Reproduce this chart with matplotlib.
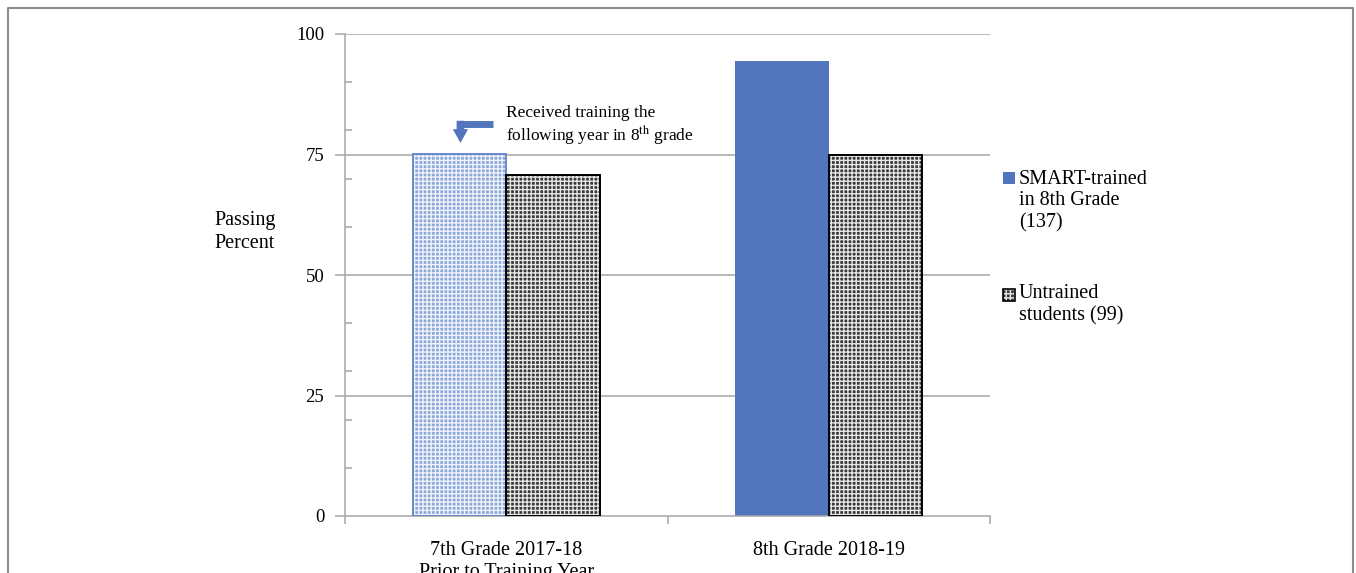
import matplotlib
matplotlib.use('Agg')
import matplotlib.pyplot as plt
from matplotlib.patches import Rectangle
from matplotlib.lines import Line2D
import numpy as np

plt.rcParams['font.family'] = ['Liberation Serif', 'DejaVu Serif']
plt.rcParams['mathtext.fontset'] = 'stix'
plt.rcParams['hatch.linewidth'] = 1.0

# данные
groups = ['7th Grade 2017-18\nPrior to Training Year', '8th Grade 2018-19']
trained = [75.2, 94.4]      # SMART-trained in 8th Grade (137)
untrained = [70.7, 75.0]    # Untrained students (99)
legend_labels = ['SMART-trained\nin 8th Grade\n(137)', 'Untrained\nstudents (99)']
yticks = [0, 25, 50, 75, 100]
note = 'Received training the\nfollowing year in 8$^{\\mathrm{th}}$ grade'

W, H = 1356, 573
fig = plt.figure(figsize=(W / 100, H / 100), dpi=100)
ax = fig.add_axes([345 / W, 1 - 516 / H, 645 / W, 482 / H])

grey = '#a6a6a6'
blue = '#5275be'
light_face = '#8ea8da'
dark_face = '#3a3a3a'
bw = 0.29
x = np.arange(len(groups))

# сетка
for v in yticks[1:]:
    ax.axhline(v, color=grey, lw=1.1, zorder=0)

# первый ряд: до обучения светлый, потом сплошной синий
ax.bar(x[0] - bw / 2, trained[0], bw, color=light_face, edgecolor='#eef2fa', hatch='++++', lw=0, zorder=2)
ax.bar(x[0] - bw / 2, trained[0], bw, fill=False, edgecolor='#5f82c8', lw=1.3, zorder=3)
ax.bar(x[1] - bw / 2, trained[1], bw, color=blue, lw=0, zorder=2)

# второй ряд
ax.bar(x + bw / 2, untrained, bw, color=dark_face, edgecolor='#e6e6e6', hatch='++++', lw=0, zorder=2)
ax.bar(x + bw / 2, untrained, bw, fill=False, edgecolor='black', lw=1.4, zorder=3)

ax.set_xlim(-0.5, 1.5)
ax.set_ylim(0, 100)

for s in ['top', 'right']:
    ax.spines[s].set_visible(False)
for s in ['left', 'bottom']:
    ax.spines[s].set_color(grey)
    ax.spines[s].set_linewidth(1.1)

ax.set_yticks(yticks)
ax.set_yticks([10, 20, 30, 40, 60, 70, 80, 90], minor=True)
ax.tick_params(axis='y', which='major', direction='out', length=7, color=grey, width=1.1,
               labelsize=13.5, pad=8)
ax.tick_params(axis='y', which='minor', direction='in', length=5, color=grey, width=1.1)

ax.set_xticks([-0.5, 0.5, 1.5])
ax.set_xticklabels([])
ax.set_xticks(x, minor=True)
ax.set_xticklabels(groups, minor=True)
ax.tick_params(axis='x', which='major', direction='out', length=6, color=grey, width=1.1)
ax.tick_params(axis='x', which='minor', length=0, labelsize=14.5, pad=18)

fig.text(245 / W, 1 - 232 / H, 'Passing\nPercent', ha='center', va='center', fontsize=14.5,
         linespacing=1.25)

# стрелка и подпись
ax.plot([-0.04, -0.153], [81.3, 81.3], color=blue, lw=5, solid_capstyle='butt', zorder=4)
ax.annotate('', xy=(-0.142, 77.4), xytext=(-0.142, 82.0),
            arrowprops=dict(arrowstyle='simple,head_length=0.9,head_width=1.0,tail_width=0.5',
                            color=blue, lw=0, mutation_scale=11, shrinkA=0, shrinkB=0))
ax.text(0.0, 81.0, note, ha='left', va='center', fontsize=12.5, linespacing=1.15)

# легенда вручную
ax_l = fig.add_axes([0, 0, 1, 1])
ax_l.set_xlim(0, W)
ax_l.set_ylim(H, 0)
ax_l.axis('off')
ax_l.add_patch(Rectangle((1003, 172), 12, 12, color=blue, lw=0))
ax_l.add_patch(Rectangle((1003, 289), 12, 12, facecolor=dark_face, edgecolor='#e6e6e6', hatch='++++', lw=0))
ax_l.add_patch(Rectangle((1003, 289), 12, 12, fill=False, edgecolor='black', lw=1.2))
ax_l.text(1019, 201, legend_labels[0], ha='left', va='center', fontsize=14.5, linespacing=1.2)
ax_l.text(1019, 305, legend_labels[1], ha='left', va='center', fontsize=14.5, linespacing=1.2)

# рамка
ax_l.add_line(Line2D([7.5, 7.5, 1352.5, 1352.5], [H + 5, 7.5, 7.5, H + 5], color='#8c8c8c', lw=1.5))

fig.savefig('out.png', dpi=100)
